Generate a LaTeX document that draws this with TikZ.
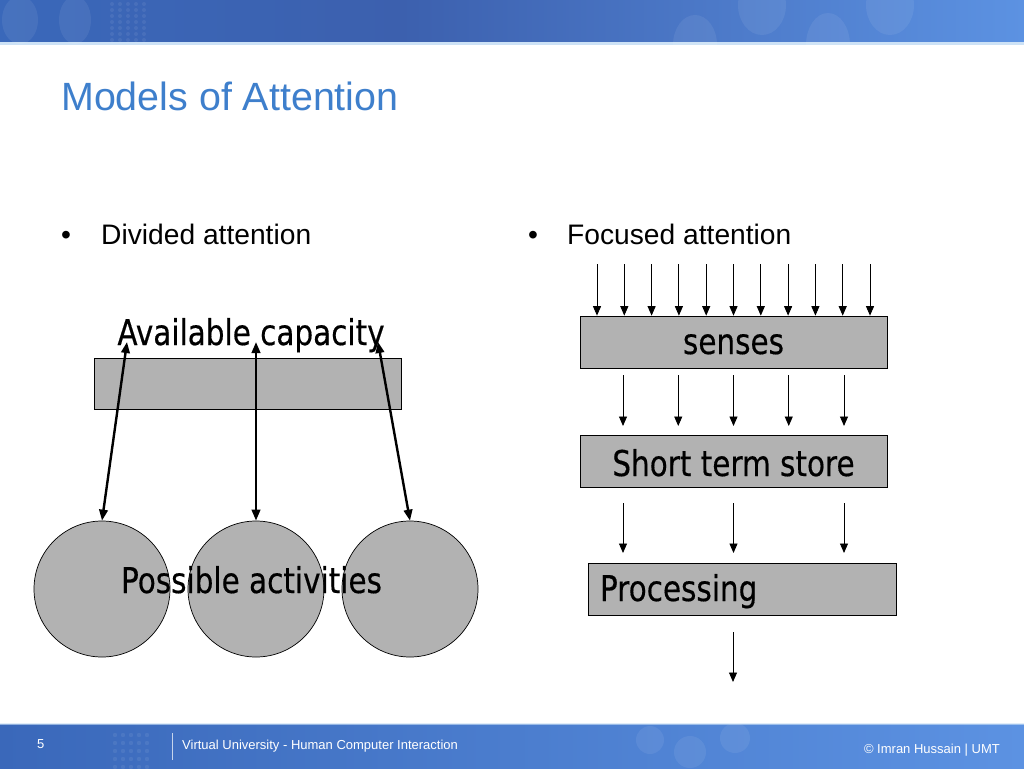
\documentclass[tikz,border=0pt]{standalone}
\usepackage{fontspec}
\setmainfont{Liberation Sans}
\newfontfamily\diafont[FakeStretch=0.83,FakeBold=0.4]{DejaVu Sans}
\usetikzlibrary{arrows.meta,calc}
\definecolor{boxgray}{RGB}{178,178,178}
\definecolor{titleblue}{RGB}{62,127,204}
\definecolor{bandA}{RGB}{58,104,186}
\definecolor{bandB}{RGB}{60,96,174}
\definecolor{bandC}{RGB}{92,146,226}
\definecolor{stripe}{RGB}{205,226,246}
\tikzset{
  box/.style={draw=black, line width=0.7pt, fill=boxgray, minimum width=307pt,
    minimum height=52pt, inner sep=0pt, font=\diafont\fontsize{35.5}{40}\selectfont},
  diatext/.style={inner sep=0pt, font=\diafont\fontsize{35.5}{40}\selectfont},
  act/.style={circle, draw=black, line width=0.7pt, fill=boxgray, minimum size=136pt, inner sep=0pt},
  arr/.style={-{Triangle[length=9.5pt,width=8pt]}, line width=0.9pt},
  darr/.style={{Triangle[length=11pt,width=8.5pt]}-{Triangle[length=11pt,width=8.5pt]}, line width=2.4pt},
  slidetext/.style={inner sep=0pt, anchor=base west},
  foot/.style={inner sep=0pt, anchor=base west, text=white, font=\fontsize{13}{15}\selectfont}
}
\begin{document}
\begin{tikzpicture}[x=1pt,y=-1pt]
\useasboundingbox (0,0) rectangle (1024,768);
\fill[white] (0,0) rectangle (1024,768);
% header band
\shade[left color=bandA, right color=bandB] (0,0) rectangle (400,42);
\shade[left color=bandB, right color=bandC] (400,0) rectangle (1024,42);
\fill[stripe] (0,42) rectangle (1024,45);
\begin{scope}[white, opacity=0.07]
  \fill (20,20) ellipse (18pt and 24pt);
  \fill (75,20) ellipse (16pt and 24pt);
  \foreach \r in {4,10,...,40} {\foreach \c in {112,120,128,136,144} {\fill (\c,\r) circle (2pt);}}
  \fill (695,45) ellipse (22pt and 30pt);
  \fill (762,5) ellipse (24pt and 30pt);
  \fill (828,45) ellipse (22pt and 32pt);
  \fill (890,5) ellipse (24pt and 30pt);
\end{scope}
% footer band
\shade[left color=bandA, right color=bandC] (0,724) rectangle (1024,768);
\fill[stripe, opacity=0.6] (0,723) rectangle (1024,725);
\begin{scope}[white, opacity=0.07]
  \foreach \r in {735,743,...,767} {\foreach \c in {115,123,131,139,147} {\fill (\c,\r) circle (2.2pt);}}
  \fill (650,740) circle (14pt);
  \fill (690,752) circle (16pt);
  \fill (735,738) circle (15pt);
\end{scope}
\draw[white, opacity=0.7, line width=0.8pt] (172,733) -- (172,760);
\node[foot] (pg) at (37,748) {5};
\node[foot] (vu) at (182,749) {Virtual University - Human Computer Interaction};
\node[foot, anchor=base east] (cr) at (1000,753) {\textcopyright{} Imran Hussain | UMT};
% title and bullets
\node[slidetext, text=titleblue, font=\fontsize{39.4}{45}\selectfont] (title) at (61,110) {Models of Attention};
\node[slidetext, font=\fontsize{28.2}{32}\selectfont] (b1) at (61,244) {\textbullet};
\node[slidetext, font=\fontsize{28.2}{32}\selectfont] (l1) at (101,244) {Divided attention};
\node[slidetext, font=\fontsize{28.2}{32}\selectfont] (b2) at (528,244) {\textbullet};
\node[slidetext, font=\fontsize{28.2}{32}\selectfont] (l2) at (567,244) {Focused attention};
% divided attention
\node[diatext, anchor=base] (avail) at (251,345) {Available capacity};
\node[box, minimum height=51pt] (cap) at (247.5,383.5) {};
\node[act] (c1) at (102,589) {};
\node[act] (c2) at (256,589) {};
\node[act] (c3) at (410,589) {};
\node[diatext, anchor=base] (poss) at (251.5,593) {Possible activities};
\coordinate (t1) at (127,342);
\coordinate (t2) at (256,342);
\coordinate (t3) at (378,342);
\draw[darr] (t1) -- (c1.north);
\draw[darr] (t2) -- (c2.north);
\draw[darr] (t3) -- (c3.north);
% focused attention
\node[box, text height=26pt, text depth=2pt] (senses) at (733.5,342) {senses};
\node[box, text height=30pt, text depth=0pt] (sts) at (733.5,461) {Short term store};
\node[box, minimum width=308pt, text width=284pt, align=left, inner xsep=12pt,
  text height=26pt, text depth=2pt] (proc) at (742,589) {Processing};
\foreach \i in {0,...,10} {
  \coordinate (in\i) at ({597+27.3*\i},264);
  \draw[arr] (in\i) -- (in\i |- senses.north);
}
\foreach \i in {0,...,4} {
  \coordinate (sa\i) at ({623+55.25*\i},375);
  \coordinate (sb\i) at ({623+55.25*\i},426);
  \draw[arr] (sa\i) -- (sb\i);
}
\foreach \i in {0,...,2} {
  \coordinate (pa\i) at ({623+110.5*\i},503);
  \coordinate (pb\i) at ({623+110.5*\i},553);
  \draw[arr] (pa\i) -- (pb\i);
}
\coordinate (oa) at (733,632);
\coordinate (ob) at (733,682);
\draw[arr] (oa) -- (ob);
\end{tikzpicture}
\end{document}
